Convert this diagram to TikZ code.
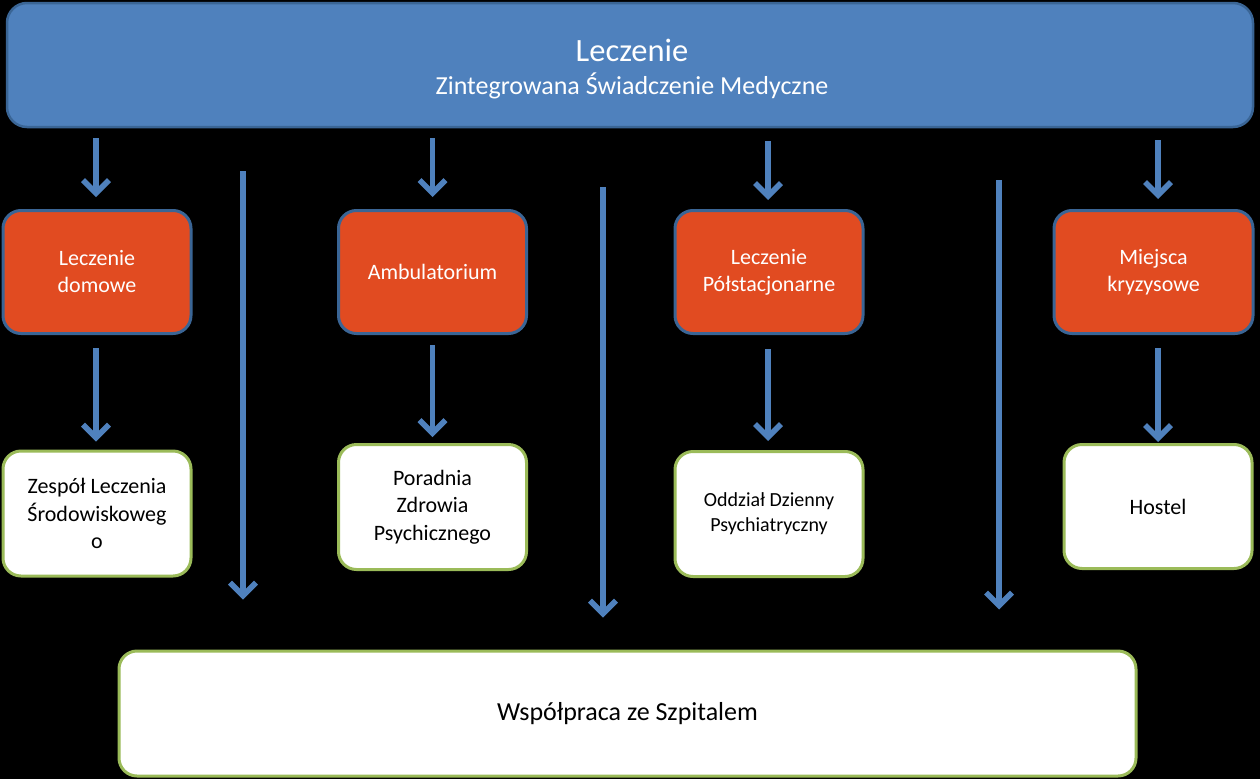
\documentclass[tikz,border=0pt]{standalone}
\usepackage{fontspec}
\setmainfont{Carlito}
\usetikzlibrary{arrows.meta}
\definecolor{bluefill}{HTML}{4F81BD}
\definecolor{blueline}{HTML}{3A6595}
\definecolor{orangefill}{HTML}{E14B21}
\definecolor{greenline}{HTML}{9BBB59}
\tikzset{
  topbox/.style={draw=blueline, line width=2.5pt, fill=bluefill, rounded corners=20pt, minimum width=1246pt, minimum height=124pt, inner sep=0pt},
  orangebox/.style={draw=blueline, line width=3pt, fill=orangefill, rounded corners=18pt, minimum width=188pt, minimum height=123pt, inner sep=0pt, text=white, align=center, font=\fontsize{22}{27}\selectfont},
  whitebox/.style={draw=greenline, line width=3pt, fill=white, rounded corners=18pt, minimum width=188pt, minimum height=125pt, inner sep=0pt, text=black, align=center, font=\fontsize{22}{27.5}\selectfont},
  arr/.style={draw=bluefill, line width=5.5pt, -{Straight Barb[length=13pt,width=26pt]}},
}
\begin{document}
\begin{tikzpicture}[x=1pt,y=-1pt]
\fill[black] (0,0) rectangle (1260,779);
\useasboundingbox (0,0) rectangle (1260,779);
% top
\node[topbox] (top) at (630,65) {};
\node[text=white, align=center, font=\fontsize{26}{33}\selectfont, inner sep=0pt, anchor=base] (title) at (632,94) {{\fontsize{32.5}{33}\selectfont Leczenie}\\Zintegrowana Świadczenie Medyczne};
% orange row
\node[orangebox] (o1) at (97,272) {Leczenie\\domowe};
\node[orangebox] (o2) at (432.5,272) {Ambulatorium};
\node[orangebox] (o3) at (769,272) {Leczenie\\Półstacjonarne};
\node[orangebox, minimum width=199pt] (o4) at (1153.5,272) {Miejsca\\kryzysowe};
% white row
\node[whitebox] (w1) at (97,513.5) {Zespół Leczenia\\Środowiskoweg\\o};
\node[whitebox] (w2) at (432.5,507) {Poradnia\\Zdrowia\\Psychicznego};
\node[whitebox, font=\fontsize{20}{25}\selectfont] (w3) at (769,514) {Oddział Dzienny\\Psychiatryczny};
\node[whitebox, minimum height=124pt] (w4) at (1158,506.5) {Hostel};
% bottom
\node[whitebox, minimum width=1017pt, minimum height=125pt, font=\fontsize{26}{30}\selectfont] (bot) at (627.5,713.5) {Współpraca ze Szpitalem};
% arrows top -> orange
\draw[arr, shorten <=10pt, shorten >=12pt] (top.south -| 96,0) -- (o1.north -| 96,0);
\draw[arr, shorten <=10pt, shorten >=12pt] (top.south -| o2.north) -- (o2.north);
\draw[arr, shorten <=13pt, shorten >=9pt] (top.south -| 768,0) -- (o3.north -| 768,0);
\draw[arr, shorten <=12pt, shorten >=10pt] (top.south -| w4.north) -- (o4.north -| w4.north);
% arrows orange -> white
\draw[arr, shorten <=13pt, shorten >=8pt] (o1.south -| 96,0) -- (w1.north -| 96,0);
\draw[arr, shorten <=10pt, shorten >=6pt] (o2.south) -- (w2.north);
\draw[arr, shorten <=14pt, shorten >=9pt] (o3.south -| 768,0) -- (w3.north -| 768,0);
\draw[arr, shorten <=13pt, shorten >=1pt] (o4.south -| w4.north) -- (w4.north);
% long arrows to bottom
\coordinate (l1) at (243,171);
\coordinate (l2) at (603,187);
\coordinate (l3) at (999,180);
\draw[arr, shorten >=50pt] (l1) -- (l1 |- bot.north);
\draw[arr, shorten >=32pt] (l2) -- (l2 |- bot.north);
\draw[arr, shorten >=40pt] (l3) -- (l3 |- bot.north);
\end{tikzpicture}
\end{document}
